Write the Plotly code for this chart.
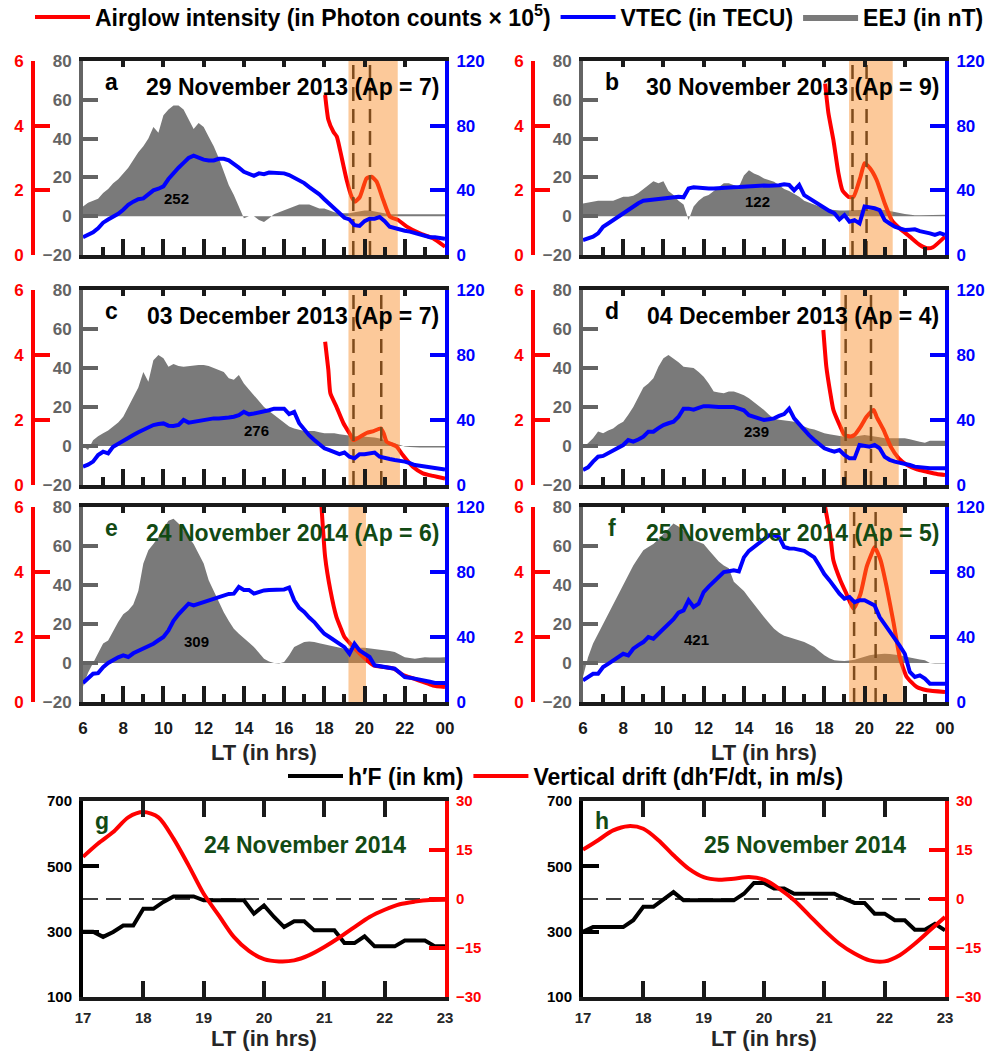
import numpy as np
import plotly.graph_objects as go

FONT = "Liberation Sans, Arial, sans-serif"
RED = "#ff0000"
BLUE = "#0000ff"
FILLGRAY = "#7a7a7a"
AXGRAY = "#646464"
DARK = "#1a1a1a"
GREEN = "#124a14"
ORANGE = "rgba(248,135,30,0.45)"

# ---------------- data: panels a-f ----------------
hours = np.arange(6, 24.001, 0.25)          # 1/4-hour grid, 6 LT .. 24 LT
x_range = [6, 24]
tick_hours = [6, 8, 10, 12, 14, 16, 18, 20, 22, 24]
tick_labels = ["6", "8", "10", "12", "14", "16", "18", "20", "22", "00"]
odd_hours = [7, 9, 11, 13, 15, 17, 19, 21, 23]
eej_range = [-20, 80]
eej_ticks = [-20, 0, 20, 40, 60, 80]
ag_range = [0, 6]
ag_ticks = [0, 2, 4, 6]
vtec_range = [0, 120]
vtec_ticks = [0, 40, 80, 120]

eej_a = [5, 7, 8, 9, 12, 14, 17, 19, 22, 25, 29, 33, 36, 40, 46, 43,
         52, 55, 57, 57, 55, 50, 45, 48, 46, 41, 36, 30, 23, 16, 11, 5,
         -1, 0, 0, -2, -3, -1, 1, 2, 3, 4, 5, 6, 6, 6, 5, 4,
         4, 3, 2, 1.5, 1.5, 1.5, 2, 2.5, 3, 3, 2.5, 2, 1.5, 1, 1, 1,
         1, 1, 0.8, 1, 1, 0.8, 1, 1, 1]
eej_b = [6.5, 7, 7.5, 8, 8, 8, 8, 9, 10, 10, 10.5, 12, 14, 16, 18, 17,
         18, 13, 11, 8, 6, -2, 5, 8, 10, 11, 13, 15, 17, 17, 16, 15,
         21, 23.7, 22, 21, 19.4, 18.5, 17.7, 16, 14, 13, 11.5, 10, 8, 7, 5.7, 4.8,
         4, 3.5, 3.2, 3, 3, 3, 3, 3.2, 3.4, 3.5, 3.4, 3.4, 3.2, 2.8, 2.2, 1.7,
         1.2, 0.8, 0.5, 0.5, 0.5, 0.5, 0.5, 0.6, 0.8]
eej_c = [0, -2, 3, 5, 6.5, 8, 10, 12, 15, 20, 25, 30, 38, 33, 44, 46.7,
         45, 40.7, 42, 41, 40.7, 41, 41.5, 41.5, 41.5, 41, 40, 39, 38, 34.7, 34, 36.4,
         32, 29, 26, 23, 20, 18, 16, 14, 11.6, 10, 9, 8.2, 7.7, 7.7, 7.7, 7,
         6.5, 6.5, 6.5, 6, 5.6, 5.3, 5, 5, 4.8, 4.6, 4.4, 3.8, 3, 2.2, 1.4, 0.5,
         -0.3, -0.5, -0.7, -0.7, -0.7, -0.7, -0.7, -0.7, -0.7]
eej_d = [-1, 1.4, 4, 7.4, 6.5, 8, 9, 11, 12.5, 16, 20, 25, 30, 32, 34.7, 40.7,
         45, 46.7, 45, 43, 40.7, 40.5, 40, 38, 35.5, 32, 28, 27.5, 27, 28, 28, 27,
         26, 24.5, 22.6, 20.5, 18.5, 16, 14, 13.5, 13, 12.8, 12.5, 11, 10, 9, 8.5, 7.5,
         6.5, 6, 5.6, 5.2, 4.8, 4.8, 4.8, 5.2, 5.6, 5.3, 5, 4.5, 4, 4, 4, 4,
         4, 3.5, 2.7, 2.2, 1.7, 2.7, 2.7, 2.7, 2.7]
eej_e = [-12, -5, 0, 5, 10, 11.6, 16.7, 21, 25, 27, 30, 37, 51, 57.8, 61, 64.6,
         69, 73, 74, 71.5, 68, 64.6, 61, 56, 51, 42.4, 37, 32, 26, 21.5, 17.6, 15,
         12.5, 10.5, 8.2, 5, 2.2, 0.8, 0, -0.3, 0.5, 4, 8.2, 9.5, 10.8, 11, 10.8, 10.2,
         9.6, 9, 8.5, 8, 7.3, 7.6, 7.9, 7.9, 7.9, 7.6, 7.3, 7, 6.8, 6.2, 5.6, 4.3,
         3, 2.6, 2.2, 2.6, 3, 2.9, 2.7, 2.8, 3]
eej_f = [-7, 3, 10, 15, 20, 25, 30, 35, 40, 45, 50, 54, 57.8, 59.5, 61, 63.5,
         66, 69, 71.5, 70, 68, 65.5, 63, 62, 61, 58, 54.7, 52, 50, 48.6, 41.7, 39.5,
         37, 33.5, 30, 27, 23.6, 20.5, 17.6, 15.5, 14, 13.2, 12.5, 11.6, 10.8, 9.5, 8.2, 6,
         4, 2.5, 1.4, 1.2, 1, 1.3, 1.7, 2.5, 3.4, 4, 4.4, 4.7, 4.8, 4.6, 4.4, 4,
         3.4, 2.8, 2.2, 1.8, 1.4, 0, -0.2, -0.3, -0.3]

vtec_a = [11, 12.5, 14, 16.5, 20, 22, 23.5, 25.5, 28, 31, 33, 34.5, 35, 37.5, 40, 41,
          42.5, 47, 51, 54, 57, 60, 61.5, 60, 59, 58.5, 58.5, 59.5, 59.5, 58.5, 56.5, 54,
          51.5, 50, 49, 50.5, 50, 51, 51, 51, 50.5, 49.5, 48, 46.5, 44.5, 42, 40, 37.5,
          34.5, 31.5, 29, 26, 23, 22, 18.5, 18, 21, 22.5, 22.5, 23.5, 21, 17.5, 16.5, 15.5,
          15, 14.5, 13.5, 12.5, 11.5, 11, 11, 10.5, 10]
vtec_b = [9.3, 10.3, 11.3, 13.4, 17.5, 19.5, 21.6, 23.7, 25.8, 28, 30.3, 32, 33.6, 34, 34.4, 34.7,
          35, 35.5, 36, 36, 35.7, 41.2, 41.9, 41.5, 41.2, 41.2, 41.2, 41.5, 41.9, 41.9, 41.9, 42,
          42.3, 42.5, 42.7, 42.8, 43, 42.8, 42.7, 43.2, 43.7, 43.3, 40, 43.3, 37, 35, 33, 31,
          28.9, 27.3, 25.8, 22, 24.7, 20.6, 21.6, 19.6, 30, 29.5, 28.9, 27.8, 21.6, 19.5, 17.5, 16.5,
          15.5, 15.7, 15.9, 14.8, 14.4, 13.4, 12.4, 13.5, 12.4]
vtec_c = [11.3, 12.5, 14.4, 18.5, 20.5, 19.5, 23.6, 25.5, 27.7, 29, 30.8, 32.5, 33.8, 35, 36.9, 37.5,
          37.9, 36.5, 36.3, 37, 40, 38.4, 39, 39.5, 40.4, 40.5, 41, 41, 41, 41.5, 42, 43,
          45, 43.5, 44, 44.5, 45, 46, 47, 47, 47, 43.7, 45, 38, 33.8, 30.5, 27.7, 25,
          22.6, 21.5, 20.5, 19, 20, 17.4, 16.4, 19, 19, 19.5, 20, 17.4, 16.4, 16, 15.4, 15,
          14.4, 13.5, 12.3, 11.8, 11.3, 10.8, 10.3, 10, 9.6]
vtec_d = [9.2, 10.9, 14.4, 17.4, 17.9, 19.5, 21.5, 23, 24.6, 27.7, 26.7, 28, 29.7, 32.8, 32.8, 35,
          36.9, 38, 39, 42, 47, 47, 46.4, 47.5, 48.5, 48.5, 48, 48, 48, 48, 48, 47,
          46, 43, 42, 41, 40, 40.5, 41, 42.5, 43.7, 47, 41, 37.5, 33.8, 30.5, 27.7, 25,
          22.6, 21.5, 20.5, 21.5, 18.5, 16.4, 16.4, 24.6, 24, 23.6, 24.6, 22.6, 17.4, 15.5, 14.4, 13.8,
          13.3, 12.3, 11.3, 10.8, 10.3, 10.3, 10.3, 10.3, 10.3]
vtec_e = [11.7, 14.4, 17.4, 17.8, 21.5, 24, 26, 27.5, 28.7, 27.7, 30, 31.5, 32.8, 34.3, 35.9, 38,
          40, 44, 50, 54, 57.4, 60.5, 59.5, 60.5, 61.5, 62.5, 63.6, 65, 66, 66.5, 66.7, 70.8,
          69, 69, 66.7, 68, 68.7, 69, 69.3, 69.3, 69.3, 70.4, 62.6, 58, 55.4, 52, 49.2, 45.5,
          42, 40, 38, 36, 33.8, 29.7, 35.9, 31.8, 30, 27.7, 22.6, 22, 21.5, 21, 20.5, 18,
          15.4, 15, 14.4, 14, 13.7, 12.5, 11.7, 11.7, 11.7]
vtec_f = [13.3, 15.5, 17.4, 17.4, 21.5, 23.5, 25.6, 27.5, 29.7, 28.7, 32.8, 35, 36.9, 40, 39, 42,
          45, 48, 51, 55, 56.4, 62.6, 58.5, 60.5, 67.7, 71, 73.8, 77, 80, 80.5, 81, 80.4,
          89, 93, 95.4, 98, 100.5, 102.6, 102.6, 101.5, 95.4, 94.5, 94.4, 93.5, 93, 91, 89, 84,
          78.8, 75, 70.8, 66.7, 63.6, 64.6, 61.5, 62.6, 62.6, 61, 59.5, 52.3, 48.2, 43.5, 39, 34.5,
          29.7, 18.5, 15.4, 16.4, 14.4, 11.3, 11.3, 11.3, 11.3]

ag_t_a = [18.04, 18.2, 18.45, 18.62, 18.78, 19.11, 19.36, 19.53, 19.77, 20.1, 20.35, 20.6, 20.93, 21.26, 21.68, 22.1, 22.75, 23.4, 24.0]
ag_a = [4.95, 4.18, 3.81, 3.66, 3.25, 2.32, 1.80, 1.65, 1.80, 2.37, 2.42, 2.27, 1.70, 1.19, 1.08, 0.88, 0.67, 0.52, 0.26]
ag_t_b = [18.04, 18.2, 18.45, 18.7, 18.9, 19.2, 19.45, 19.8, 20.0, 20.27, 20.6, 21.0, 21.35, 21.75, 22.25, 22.75, 23.1, 23.4, 24.0]
ag_b = [5.3, 4.4, 3.56, 2.53, 2.0, 1.8, 1.8, 2.42, 2.84, 2.68, 2.32, 1.6, 1.08, 0.82, 0.57, 0.31, 0.21, 0.24, 0.57]
ag_t_c = [18.04, 18.2, 18.3, 18.6, 18.95, 19.3, 19.45, 19.8, 20.1, 20.45, 20.8, 20.95, 21.1, 21.6, 21.9, 22.4, 22.9, 23.4, 24.0]
ag_c = [4.41, 3.54, 2.82, 2.41, 1.9, 1.54, 1.38, 1.49, 1.6, 1.66, 1.74, 1.59, 1.33, 1.18, 0.92, 0.56, 0.36, 0.28, 0.2]
ag_t_d = [17.95, 18.1, 18.3, 18.45, 18.8, 19.0, 19.3, 19.5, 19.8, 20.1, 20.45, 20.6, 20.95, 21.3, 21.7, 22.1, 22.6, 23.1, 23.6, 24.0]
ag_d = [4.77, 3.64, 2.82, 2.31, 1.79, 1.54, 1.49, 1.54, 1.79, 2.1, 2.31, 2.1, 1.69, 1.18, 0.82, 0.62, 0.48, 0.41, 0.34, 0.31]
ag_t_e = [17.85, 18.04, 18.3, 18.6, 18.8, 19.0, 19.45, 19.95, 20.45, 20.95, 21.45, 21.95, 22.45, 22.9, 23.4, 24.0]
ag_e = [6.1, 4.46, 3.44, 2.62, 2.3, 2.0, 1.69, 1.38, 1.13, 1.08, 1.03, 0.82, 0.72, 0.62, 0.51, 0.46]
ag_t_f = [18.04, 18.3, 18.45, 18.8, 19.1, 19.45, 19.8, 20.1, 20.35, 20.5, 20.8, 21.1, 21.45, 21.75, 22.1, 22.6, 23.1, 24.0]
ag_f = [6.0, 5.1, 4.36, 3.74, 3.33, 2.87, 3.33, 4.15, 4.56, 4.77, 4.36, 3.54, 2.41, 1.38, 0.77, 0.46, 0.36, 0.31]

shade_a, shade_b, shade_c = [19.2, 21.65], [19.23, 21.4], [19.2, 21.76]
shade_d, shade_e, shade_f = [18.8, 21.7], [19.2, 20.07], [19.23, 21.9]
dash_a, dash_b, dash_c = [19.44, 20.27], [19.4, 20.1], [19.45, 20.83]
dash_d, dash_e, dash_f = [19.06, 20.32], [], [19.48, 20.55]

letters = ["a", "b", "c", "d", "e", "f"]
titles = ["29 November 2013 (Ap = 7)", "30 November 2013 (Ap = 9)",
          "03 December 2013 (Ap = 7)", "04 December 2013 (Ap = 4)",
          "24 November 2014 (Ap = 6)", "25 November 2014 (Ap = 5)"]
eej_sum = ["252", "122", "276", "239", "309", "421"]
eej_sum_x = [10.63, 14.68, 14.64, 14.64, 11.63, 11.63]
eej_sum_y = [9.1, 7.4, 7.7, 7.35, 10.8, 12.1]

# ---------------- data: panels g-h ----------------
hf_t = np.linspace(17, 23, 37)               # 10-minute ionosonde soundings
drift_t = np.arange(17, 23.001, 0.25)
hf_g = [300, 300, 284, 299, 319, 319, 370, 370, 391, 408, 408, 408, 396, 396, 396, 396, 396, 355, 380,
        345, 314, 332, 332, 304, 304, 304, 265, 265, 286, 255, 255, 255, 273, 273, 273, 255, 255]
hf_h = [300, 314, 314, 314, 314, 335, 376, 376, 398, 421, 396, 396, 396, 396, 396, 396, 416, 449, 449,
        432, 432, 416, 416, 416, 416, 416, 401, 388, 388, 355, 355, 335, 335, 306, 306, 324, 304]
drift_g = [12.9, 17.0, 20.5, 25.0, 26.6, 25.0, 18.5, 10.3, 1.6, -5.0, -11.6, -15.9, -18.4,
           -19.1, -18.8, -17.2, -14.7, -11.8, -8.6, -5.5, -3.3, -1.6, -0.8, -0.3, -0.2]
drift_h = [15.1, 18.0, 21.0, 22.3, 21.5, 18.0, 13.4, 9.3, 6.7, 5.9, 6.2, 6.7, 5.9,
           3.2, -0.4, -5.0, -9.6, -13.7, -16.7, -18.8, -19.1, -17.2, -13.7, -9.6, -5.5]
gh_xticks = [17, 18, 19, 20, 21, 22, 23]
hf_ticks = [100, 300, 500, 700]
drift_ticks = [-30, -15, 0, 15, 30]
gh_letters = ["g", "h"]
gh_titles = ["24 November 2014", "25 November 2014"]

eej_all = [eej_a, eej_b, eej_c, eej_d, eej_e, eej_f]
vtec_all = [vtec_a, vtec_b, vtec_c, vtec_d, vtec_e, vtec_f]
agt_all = [ag_t_a, ag_t_b, ag_t_c, ag_t_d, ag_t_e, ag_t_f]
ag_all = [ag_a, ag_b, ag_c, ag_d, ag_e, ag_f]
shade_all = [shade_a, shade_b, shade_c, shade_d, shade_e, shade_f]
dash_all = [dash_a, dash_b, dash_c, dash_d, dash_e, dash_f]

# ---------------- layout geometry ----------------
col_x = [(0.083, 0.445), (0.583, 0.945)]
row_y = [(0.7578, 0.9421), (0.5394, 0.7246), (0.3333, 0.5185)]
gh_y = (0.0532, 0.2393)
red_pos = [0.033, 0.533]


def aname(k, n):
    return f"{k}axis" + ("" if n == 1 else str(n))


def ref(k, n):
    return k + ("" if n == 1 else str(n))


def tfont(size, color):
    return dict(family=FONT, size=size, color=color, weight="bold")


fig = go.Figure()
lay = {}
annotations = []
shapes = []

for p in range(6):
    r, c = divmod(p, 2)
    xi, xt = p + 1, p + 7
    yg, yr, yb = 3 * p + 1, 3 * p + 2, 3 * p + 3
    X, XT = ref("x", xi), ref("x", xt)
    YG, YR, YB = ref("y", yg), ref("y", yr), ref("y", yb)

    lay[aname("x", xi)] = dict(
        domain=list(col_x[c]), anchor=YG, range=x_range, tickmode="array",
        tickvals=tick_hours, ticktext=tick_labels, showticklabels=(r == 2),
        ticks="inside", ticklen=16, tickwidth=4, tickcolor=DARK,
        showline=True, linewidth=4, linecolor=DARK, showgrid=False, zeroline=False,
        tickfont=tfont(17, DARK), ticklabelstandoff=8,
        minor=dict(tickmode="array", tickvals=odd_hours, ticks="inside", ticklen=8,
                   tickwidth=4, tickcolor=DARK, showgrid=False))
    lay[aname("x", xt)] = dict(
        overlaying=X, anchor=YG, side="top", range=x_range, tickmode="array",
        tickvals=tick_hours, showticklabels=False, ticks="inside", ticklen=6, tickwidth=4,
        tickcolor=DARK, showline=True, linewidth=4, linecolor=DARK, showgrid=False, zeroline=False)
    lay[aname("y", yg)] = dict(
        domain=list(row_y[r]), anchor=X, range=eej_range, tickmode="array", tickvals=eej_ticks,
        ticks="inside", ticklen=15, tickwidth=4, tickcolor=AXGRAY, showline=True, linewidth=4,
        linecolor=AXGRAY, showgrid=False, zeroline=False, tickfont=tfont(17, AXGRAY),
        ticklabelstandoff=4)
    lay[aname("y", yr)] = dict(
        overlaying=YG, anchor="free", position=red_pos[c], side="left", range=ag_range,
        tickmode="array", tickvals=ag_ticks, ticks="inside", ticklen=15, tickwidth=4,
        tickcolor=RED, showline=True, linewidth=4, linecolor=RED, showgrid=False,
        zeroline=False, tickfont=tfont(17, RED), ticklabelstandoff=4)
    lay[aname("y", yb)] = dict(
        overlaying=YG, anchor=X, side="right", range=vtec_range, tickmode="array",
        tickvals=vtec_ticks, ticks="inside", ticklen=15, tickwidth=4, tickcolor=BLUE,
        showline=True, linewidth=4, linecolor=BLUE, showgrid=False, zeroline=False,
        tickfont=tfont(17, BLUE), ticklabelstandoff=4)

    first = (p == 0)
    fig.add_trace(go.Scatter(
        x=hours, y=eej_all[p], mode="lines", fill="tozeroy", fillcolor=FILLGRAY,
        line=dict(width=0, color=FILLGRAY), xaxis=X, yaxis=YG, name="EEJ (in nT)",
        showlegend=first, legendrank=3))
    fig.add_trace(go.Scatter(x=x_range, y=[None, None], xaxis=XT, yaxis=YG,
                             showlegend=False, hoverinfo="skip"))
    fig.add_trace(go.Scatter(
        x=agt_all[p], y=ag_all[p], mode="lines",
        line=dict(color=RED, width=4, shape="spline", smoothing=0.5),
        xaxis=X, yaxis=YR, name="Airglow intensity (in Photon counts × 10<sup>5</sup>)",
        showlegend=first, legendrank=1))
    for d in dash_all[p]:
        fig.add_trace(go.Scatter(
            x=[d, d], y=vtec_range, mode="lines",
            line=dict(color=DARK, width=2.5, dash="14px,8px"),
            xaxis=X, yaxis=YB, showlegend=False, hoverinfo="skip"))
    s0, s1 = shade_all[p]
    fig.add_trace(go.Scatter(
        x=[s0, s1, s1, s0, s0], y=[vtec_range[0], vtec_range[0], vtec_range[1], vtec_range[1], vtec_range[0]],
        mode="lines", fill="toself", fillcolor=ORANGE, line=dict(width=0),
        xaxis=X, yaxis=YB, showlegend=False, hoverinfo="skip"))
    fig.add_trace(go.Scatter(
        x=hours, y=vtec_all[p], mode="lines", line=dict(color=BLUE, width=4),
        xaxis=X, yaxis=YB, name="VTEC (in TECU)", showlegend=first, legendrank=2))

    col = GREEN if r == 2 else "black"
    annotations.append(dict(text=letters[p], xref=f"{X} domain", yref=f"{YG} domain",
                            x=0.079, y=0.893, showarrow=False, xanchor="center",
                            yanchor="middle", font=tfont(23, col)))
    annotations.append(dict(text=titles[p], xref=f"{X} domain", yref=f"{YG} domain",
                            x=0.99, y=0.865, showarrow=False, xanchor="right",
                            yanchor="middle", font=tfont(23, col)))
    annotations.append(dict(text=eej_sum[p], xref=X, yref=YG, x=eej_sum_x[p], y=eej_sum_y[p],
                            showarrow=False, xanchor="center", yanchor="middle",
                            font=tfont(15, "black")))
    if r == 2:
        annotations.append(dict(text="LT (in hrs)", xref=f"{X} domain", yref="paper",
                                x=0.5, y=1 - 752 / 1053, showarrow=False, xanchor="center",
                                yanchor="middle", font=tfont(22, "#262626")))

# ---------------- panels g, h ----------------
hf_all = [hf_g, hf_h]
drift_all = [drift_g, drift_h]
for q in range(2):
    xi = 13 + q
    yh, yd = 19 + 2 * q, 20 + 2 * q
    X, YH, YD = ref("x", xi), ref("y", yh), ref("y", yd)
    lay[aname("x", xi)] = dict(
        domain=list(col_x[q]), anchor=YH, range=[gh_xticks[0], gh_xticks[-1]], tickmode="array",
        tickvals=gh_xticks, ticks="inside", ticklen=16, tickwidth=4, tickcolor=DARK,
        showline=True, linewidth=4, linecolor=DARK, mirror="ticks", showgrid=False,
        zeroline=False, tickfont=tfont(15, "#262626"), ticklabelstandoff=4)
    lay[aname("y", yh)] = dict(
        domain=list(gh_y), anchor=X, range=[hf_ticks[0], hf_ticks[-1]], tickmode="array",
        tickvals=hf_ticks, ticks="inside", ticklen=16, tickwidth=4, tickcolor="black",
        showline=True, linewidth=4, linecolor="black", showgrid=False, zeroline=False,
        tickfont=tfont(15, "black"), ticklabelstandoff=4)
    lay[aname("y", yd)] = dict(
        overlaying=YH, anchor=X, side="right", range=[drift_ticks[0], drift_ticks[-1]],
        tickmode="array", tickvals=drift_ticks, ticks="inside", ticklen=16, tickwidth=4,
        tickcolor=RED, showline=True, linewidth=4, linecolor=RED, showgrid=False,
        zeroline=False, tickfont=tfont(15, RED), ticklabelstandoff=4)
    fig.add_trace(go.Scatter(
        x=hf_t, y=hf_all[q], mode="lines", line=dict(color="black", width=4),
        xaxis=X, yaxis=YH, name="h′F (in km)", legend="legend2",
        showlegend=(q == 0), legendrank=1))
    fig.add_trace(go.Scatter(
        x=drift_t, y=drift_all[q], mode="lines",
        line=dict(color=RED, width=4, shape="spline", smoothing=0.8),
        xaxis=X, yaxis=YD, name="Vertical drift (dh′F/dt, in m/s)", legend="legend2",
        showlegend=(q == 0), legendrank=2))
    shapes.append(dict(type="line", xref=f"{X} domain", yref=YD, x0=0, x1=1, y0=0, y1=0,
                       line=dict(color="black", width=1.5, dash="15px,8px"), layer="below"))
    annotations.append(dict(text=gh_letters[q], xref=f"{X} domain", yref=f"{YH} domain",
                            x=0.053, y=0.9, showarrow=False, xanchor="center",
                            yanchor="middle", font=tfont(23, GREEN)))
    annotations.append(dict(text=gh_titles[q], xref=f"{X} domain", yref=f"{YH} domain",
                            x=0.613, y=0.776, showarrow=False, xanchor="center",
                            yanchor="middle", font=tfont(23, GREEN)))
    annotations.append(dict(text="LT (in hrs)", xref=f"{X} domain", yref="paper",
                            x=0.5, y=1 - 1038 / 1053, showarrow=False, xanchor="center",
                            yanchor="middle", font=tfont(22, "#262626")))

fig.update_layout(
    width=1000, height=1053, margin=dict(l=0, r=0, t=0, b=0, autoexpand=False),
    paper_bgcolor="white", plot_bgcolor="rgba(0,0,0,0)",
    font=dict(family=FONT), hovermode=False,
    annotations=annotations, shapes=shapes,
    legend=dict(orientation="h", x=0.03, y=1 - 17 / 1053, xanchor="left", yanchor="middle",
                font=tfont(23, "black"), bgcolor="rgba(0,0,0,0)", itemwidth=55,
                traceorder="normal"),
    legend2=dict(orientation="h", x=0.283, y=1 - 776 / 1053, xanchor="left", yanchor="middle",
                 font=tfont(23, "black"), bgcolor="rgba(0,0,0,0)", itemwidth=55),
    **lay,
)

# page body has an 8px default margin; remove it so the 1000x1053 figure fills the window
fig.write_html("out.html", config={"displayModeBar": False},
               post_script="document.body.style.margin='0';")
